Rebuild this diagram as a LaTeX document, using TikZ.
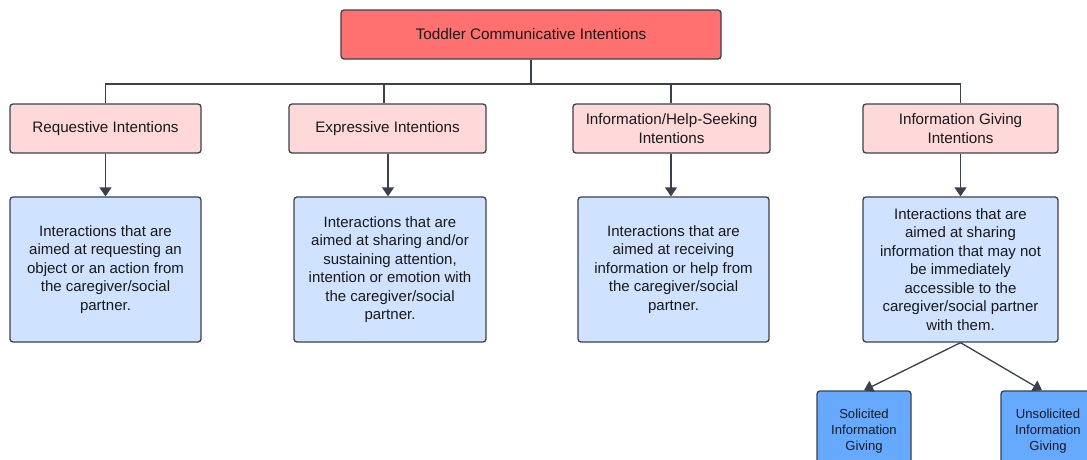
\documentclass[tikz,border=0pt]{standalone}
\usepackage{fontspec}
\setmainfont{Liberation Sans}
\usetikzlibrary{arrows.meta}
\definecolor{topred}{HTML}{FF7171}
\definecolor{pinkbox}{HTML}{FFD9D9}
\definecolor{bluebox}{HTML}{CFE2FF}
\definecolor{deepblue}{HTML}{66AAFF}
\definecolor{edge}{HTML}{3A414A}
\tikzset{
  basebox/.style={draw=edge, line width=1.3pt, rounded corners=3pt, align=center, inner sep=0pt, text={black!90}},
  topbox/.style={basebox, fill=topred, minimum width=380pt, minimum height=49pt, font=\fontsize{15.3}{18}\selectfont},
  catbox/.style={basebox, fill=pinkbox, minimum height=49pt, font=\fontsize{15.2}{18.5}\selectfont},
  descbox/.style={basebox, fill=bluebox, minimum height=145pt, font=\fontsize{15}{18.5}\selectfont},
  subbox/.style={basebox, fill=deepblue, minimum height=80pt, font=\fontsize{13.1}{16}\selectfont},
  link/.style={draw=edge, line width=1.3pt},
  arrowlink/.style={link, -{Triangle[width=12pt,length=9pt]}}
}
\begin{document}
\begin{tikzpicture}[x=1pt,y=-1pt]
\clip (0,0) rectangle (1087,459);
\fill[white] (0,0) rectangle (1087,459);

\node[topbox] (top) at (531,34.5) {Toddler Communicative Intentions};

\node[catbox, minimum width=191pt] (c1) at (105.5,128.5) {Requestive Intentions};
\node[catbox, minimum width=197pt] (c2) at (387.5,128.5) {Expressive Intentions};
\node[catbox, minimum width=197pt] (c3) at (671.5,128.5) {Information/Help-Seeking\\Intentions};
\node[catbox, minimum width=195pt] (c4) at (960.5,128.5) {Information Giving\\Intentions};

\node[descbox, minimum width=191pt] (d1) at (105.5,269.5) {Interactions that are\\aimed at requesting an\\object or an action from\\the caregiver/social\\partner.};
\node[descbox, minimum width=192pt] (d2) at (390,269.5) {Interactions that are\\aimed at sharing and/or\\sustaining attention,\\intention or emotion with\\the caregiver/social\\partner.};
\node[descbox, minimum width=191pt] (d3) at (673.5,269.5) {Interactions that are\\aimed at receiving\\information or help from\\the caregiver/social\\partner.};
\node[descbox, minimum width=195pt] (d4) at (960.5,269.5) {Interactions that are\\aimed at sharing\\information that may not\\be immediately\\accessible to the\\caregiver/social partner\\with them.};

\node[subbox, minimum width=94pt] (s1) at (864,431) {Solicited\\Information\\Giving};
\node[subbox, minimum width=94pt] (s2) at (1048,431) {Unsolicited\\Information\\Giving};

\coordinate (bus) at (531,84);
\draw[link] (top.south) -- (bus);
\draw[link] (bus) -| (c1.north);
\draw[link] (bus) -| ([xshift=-3.5pt]c2.north);
\draw[link] (bus) -| ([xshift=-0.5pt]c3.north);
\draw[link] (bus) -| (c4.north);

\draw[arrowlink] (c1.south) -- (d1.north);
\draw[arrowlink] ([xshift=0.5pt]c2.south) -- ([xshift=-2pt]d2.north);
\draw[arrowlink] ([xshift=-0.5pt]c3.south) -- ([xshift=-2.5pt]d3.north);
\draw[arrowlink] (c4.south) -- (d4.north);

\draw[arrowlink] (d4.south) -- (s1.north);
\draw[arrowlink] (d4.south) -- ([xshift=-6pt]s2.north);
\end{tikzpicture}
\end{document}
